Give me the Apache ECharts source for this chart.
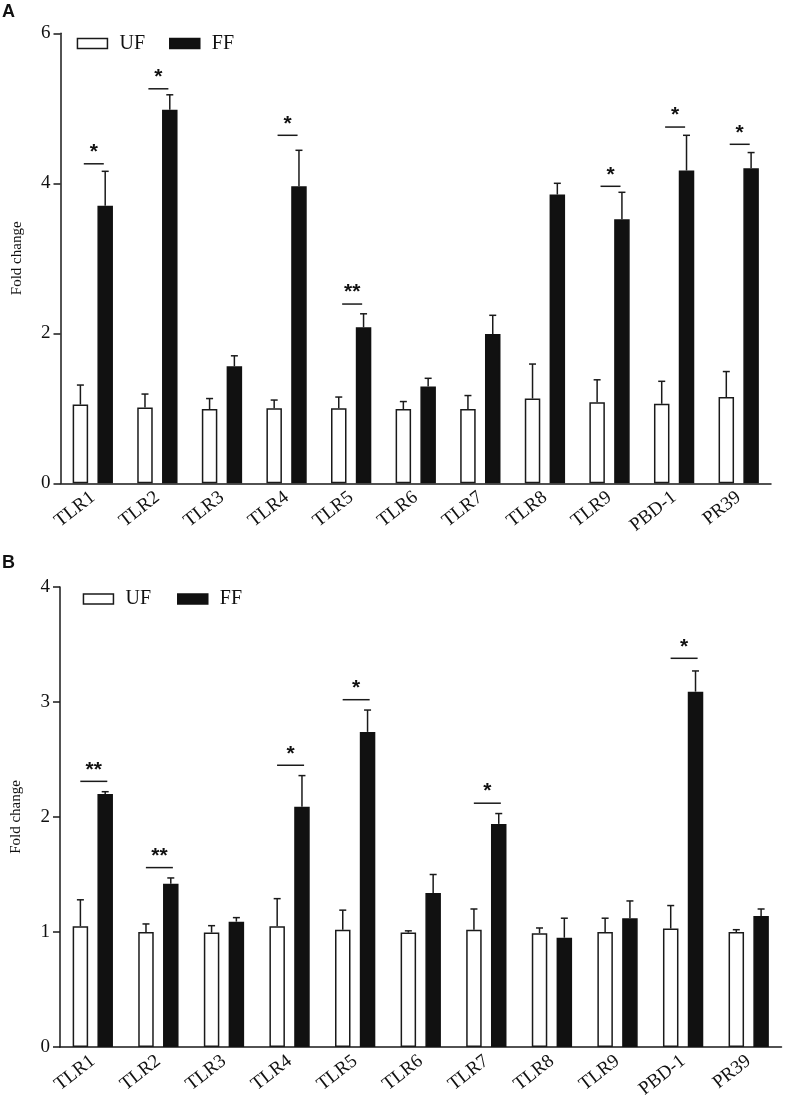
<!DOCTYPE html>
<html><head><meta charset="utf-8">
<script src="https://cdn.jsdelivr.net/npm/echarts@6/dist/echarts.min.js"></script>
<style>html,body{margin:0;padding:0;background:#fff}#c{width:787px;height:1103px}</style>
</head><body><div id="c"></div>
<script>
// ---------- data ----------
const categories = ['TLR1','TLR2','TLR3','TLR4','TLR5','TLR6','TLR7','TLR8','TLR9','PBD-1','PR39'];
const seriesNames = ['UF','FF'];

// Panel A
const ufA    = [1.05, 1.01, 0.99, 1.00, 1.00, 0.99, 0.99, 1.13, 1.08, 1.06, 1.15];
const ufErrA = [0.26, 0.18, 0.14, 0.11, 0.15, 0.10, 0.18, 0.46, 0.30, 0.30, 0.34];
const ffA    = [3.70, 4.98, 1.56, 3.96, 2.08, 1.29, 1.99, 3.85, 3.52, 4.17, 4.20];
const ffErrA = [0.46, 0.20, 0.14, 0.48, 0.18, 0.11, 0.25, 0.15, 0.36, 0.47, 0.21];
const sigCatA    = [0, 1, 3, 4, 8, 9, 10];
const sigYA      = [4.26, 5.26, 4.64, 2.39, 3.96, 4.75, 4.52];
const sigLabelA  = ['*', '*', '*', '**', '*', '*', '*'];
const yTicksA = {min: 0, max: 6, interval: 2};

// Panel B
const ufB    = [1.05, 1.00, 0.995, 1.05, 1.02, 0.995, 1.02, 0.99, 1.00, 1.03, 1.00];
const ufErrB = [0.23, 0.07, 0.06, 0.24, 0.17, 0.015, 0.18, 0.045, 0.12, 0.20, 0.02];
const ffB    = [2.20, 1.42, 1.09, 2.09, 2.74, 1.34, 1.94, 0.95, 1.12, 3.09, 1.14];
const ffErrB = [0.02, 0.05, 0.035, 0.27, 0.19, 0.16, 0.09, 0.17, 0.15, 0.18, 0.06];
const sigCatB    = [0, 1, 3, 4, 6, 9];
const sigYB      = [2.31, 1.56, 2.45, 3.02, 2.12, 3.38];
const sigLabelB  = ['**', '**', '*', '*', '*', '*'];
const yTicksB = {min: 0, max: 4, interval: 1};

const yName = 'Fold change';
const panelLabels = ['A', 'B'];

// ---------- style ----------
const SERIF = '"Liberation Serif","Times New Roman",serif';
const SANS = '"Liberation Sans",Arial,sans-serif';
const INK = '#1a1a1a';
const BAR_W = 15.5, BAR_GAP = 0.6;
const OFFSET = BAR_W * (1 + BAR_GAP) / 2;

function barSeries(name, gi, data, filled) {
  return {
    type: 'bar', name: name, xAxisIndex: gi, yAxisIndex: gi, data: data,
    barWidth: BAR_W, barGap: (BAR_GAP * 100) + '%', silent: true,
    itemStyle: filled ? {color: '#111', borderColor: '#111', borderWidth: 1.5}
                      : {color: '#fff', borderColor: INK, borderWidth: 1.5}
  };
}

function errSeries(gi, means, errs, sign) {
  return {
    type: 'custom', xAxisIndex: gi, yAxisIndex: gi, z: 5, silent: true,
    data: means.map((m, i) => [i, m, m + errs[i]]),
    renderItem: function (params, api) {
      const base = api.coord([api.value(0), api.value(1)]);
      const top = api.coord([api.value(0), api.value(2)]);
      const x = base[0] + sign * OFFSET;
      return {type: 'group', children: [
        {type: 'line', shape: {x1: x, y1: base[1], x2: x, y2: top[1]}, style: {stroke: INK, lineWidth: 1.5}},
        {type: 'line', shape: {x1: x - 3.5, y1: top[1], x2: x + 3.5, y2: top[1]}, style: {stroke: INK, lineWidth: 1.5}}
      ]};
    }
  };
}

function sigSeries(gi, cats, ys, labels, half) {
  return {
    type: 'custom', xAxisIndex: gi, yAxisIndex: gi, z: 6, silent: true,
    data: cats.map((c, k) => [c, ys[k]]),
    renderItem: function (params, api) {
      const p = api.coord([api.value(0), api.value(1)]);
      const cx = p[0] + 1;
      return {type: 'group', children: [
        {type: 'line', shape: {x1: cx - half, y1: p[1], x2: cx + half, y2: p[1]}, style: {stroke: INK, lineWidth: 1.5}},
        {type: 'text', x: cx, y: p[1] - 11.5, style: {text: labels[params.dataIndex], fill: '#111',
          font: 'bold 21px ' + SANS, align: 'center', verticalAlign: 'middle'}}
      ]};
    }
  };
}

function xAxis(gi) {
  return {
    type: 'category', gridIndex: gi, data: categories,
    axisLine: {lineStyle: {color: INK, width: 1.5}},
    axisTick: {alignWithLabel: true, length: 6, lineStyle: {color: INK, width: 1.5}},
    axisLabel: {rotate: 38, fontFamily: SERIF, fontSize: 19, color: '#111', margin: 12, interval: 0}
  };
}
function yAxis(gi, t) {
  return {
    type: 'value', gridIndex: gi, min: t.min, max: t.max, interval: t.interval,
    axisLine: {show: true, lineStyle: {color: INK, width: 1.5}},
    axisTick: {show: true, length: 7, lineStyle: {color: INK, width: 1.5}},
    splitLine: {show: false},
    axisLabel: {fontFamily: SERIF, fontSize: 19, color: '#111', margin: 10},
    name: yName, nameLocation: 'middle', nameGap: 36,
    nameTextStyle: {fontFamily: SERIF, fontSize: 15, color: '#111'}
  };
}
function legend(left, top, gap) {
  return {
    left: left, top: top, orient: 'horizontal', data: seriesNames, selectedMode: false,
    icon: 'rect', itemWidth: 30, itemHeight: 10, itemGap: gap,
    itemStyle: {borderWidth: 1.5},
    textStyle: {fontFamily: SERIF, fontSize: 20, color: '#111', padding: [0, 0, 0, 7]}
  };
}

const chart = echarts.init(document.getElementById('c'), null, {renderer: 'canvas'});
chart.setOption({
  backgroundColor: '#fff',
  animation: false,
  grid: [
    {left: 60.5, top: 33.3, width: 710.5, height: 450},
    {left: 60, top: 587, width: 721.5, height: 460}
  ],
  xAxis: [xAxis(0), xAxis(1)],
  yAxis: [yAxis(0, yTicksA), yAxis(1, yTicksB)],
  legend: [legend(71.7, 28.5, 24), legend(77.7, 584, 26)],
  graphic: [
    {type: 'text', left: 2, top: 3, style: {text: panelLabels[0], font: 'bold 18px ' + SANS, fill: '#111'}},
    {type: 'text', left: 2, top: 554, style: {text: panelLabels[1], font: 'bold 18px ' + SANS, fill: '#111'}}
  ],
  series: [
    barSeries(seriesNames[0], 0, ufA, false),
    barSeries(seriesNames[1], 0, ffA, true),
    errSeries(0, ufA, ufErrA, -1),
    errSeries(0, ffA, ffErrA, 1),
    sigSeries(0, sigCatA, sigYA, sigLabelA, 10),
    barSeries(seriesNames[0], 1, ufB, false),
    barSeries(seriesNames[1], 1, ffB, true),
    errSeries(1, ufB, ufErrB, -1),
    errSeries(1, ffB, ffErrB, 1),
    sigSeries(1, sigCatB, sigYB, sigLabelB, 13.5)
  ]
});
</script>
</body></html>
